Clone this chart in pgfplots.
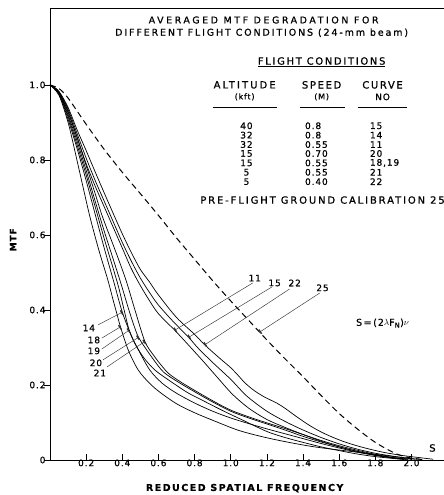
\documentclass[border=0pt]{standalone}
\usepackage{fontspec}
\setmainfont{DejaVu Sans}[LetterSpace=10,FakeBold=0.8]
\usepackage{pgfplots}
\pgfplotsset{compat=1.18}
\usetikzlibrary{arrows.meta}
\newcommand{\fs}[1]{\fontsize{#1}{#1}\selectfont}
\newcommand{\ls}[1]{\addfontfeatures{LetterSpace=#1}}
\begin{document}
\begin{tikzpicture}[x=1bp,y=1bp]
\useasboundingbox (-50bp,-35bp) rectangle (394bp,460bp);
\begin{axis}[
  scale only axis, width=394bp, height=452bp,
  xmin=0, xmax=2.18, ymin=0, ymax=1.205,
  axis lines*=left, axis line style={-, line width=0.6bp},
  clip=false,
  tick align=inside, major tick length=6bp,
  tick style={line width=0.6bp, black},
  ytick style={xshift=-6bp},
  xtick={0.2,0.4,0.6,0.8,1.0,1.2,1.4,1.6,1.8,2.0},
  xticklabels={0.2,0.4,0.6,0.8,1.0,1.2,1.4,1.6,1.8,2.0},
  ytick={0,0.2,0.4,0.6,0.8,1.0},
  yticklabels={0,0.2,0.4,0.6,0.8,1.0},
  tick label style={font=\fs{9}},
  x tick label style={yshift=4bp},
  y tick label style={xshift=-1bp},
  /pgf/number format/assume math mode=true,
]
% top frame line
\draw[line width=0.6bp] (axis cs:0,1.205) -- (axis cs:2.18,1.205);

% dashed ground calibration curve (25)
\addplot[black, line width=1bp, dash pattern=on 6bp off 4bp, smooth, tension=0.5] coordinates {
(0,1.0)(0.05,0.99)(0.1,0.965)(0.2,0.895)(0.3,0.828)(0.4,0.767)(0.5,0.71)(0.6,0.652)(0.7,0.592)(0.8,0.535)(0.9,0.478)(1.0,0.424)(1.1,0.372)(1.2,0.32)(1.3,0.27)(1.4,0.222)(1.5,0.172)(1.6,0.124)(1.7,0.083)(1.8,0.047)(1.9,0.02)(1.97,0.008)(2.05,0.002)};

% curve 11
\addplot[black, line width=0.7bp, smooth, tension=0.5] coordinates {
(0,1)(0.05,0.978)(0.1,0.93)(0.15,0.86)(0.2,0.79)(0.25,0.73)(0.3,0.675)(0.35,0.62)(0.4,0.565)(0.45,0.51)(0.5,0.465)(0.55,0.425)(0.6,0.39)(0.69,0.346)(0.75,0.315)(0.85,0.262)(0.93,0.218)(1.01,0.175)(1.1,0.138)(1.2,0.108)(1.3,0.087)(1.4,0.068)(1.5,0.05)(1.6,0.035)(1.7,0.023)(1.8,0.013)(1.9,0.006)(2.0,0.002)};
% curve 15
\addplot[black, line width=0.7bp, smooth, tension=0.5] coordinates {
(0,1)(0.05,0.98)(0.1,0.935)(0.15,0.87)(0.2,0.805)(0.25,0.745)(0.3,0.69)(0.35,0.635)(0.4,0.58)(0.45,0.53)(0.5,0.485)(0.55,0.447)(0.6,0.413)(0.68,0.37)(0.767,0.327)(0.82,0.298)(0.9,0.26)(1.0,0.215)(1.09,0.17)(1.2,0.13)(1.3,0.103)(1.4,0.08)(1.5,0.06)(1.6,0.043)(1.7,0.029)(1.8,0.018)(1.9,0.01)(2.0,0.004)(2.06,0.001)};
% curve 22
\addplot[black, line width=0.7bp, smooth, tension=0.5] coordinates {
(0,1)(0.05,0.982)(0.1,0.94)(0.15,0.88)(0.2,0.825)(0.25,0.768)(0.3,0.712)(0.35,0.657)(0.4,0.603)(0.45,0.553)(0.5,0.508)(0.55,0.475)(0.6,0.44)(0.7,0.38)(0.8,0.335)(0.856,0.307)(0.93,0.275)(1.0,0.246)(1.04,0.226)(1.08,0.205)(1.13,0.185)(1.19,0.167)(1.25,0.153)(1.3,0.138)(1.36,0.117)(1.44,0.091)(1.52,0.07)(1.62,0.05)(1.72,0.035)(1.84,0.021)(1.95,0.012)(2.05,0.006)(2.12,0.002)};
% curve 18
\addplot[black, line width=0.7bp, smooth, tension=0.5] coordinates {
(0,1)(0.05,0.972)(0.1,0.9)(0.13,0.84)(0.17,0.755)(0.22,0.65)(0.27,0.56)(0.32,0.48)(0.35,0.425)(0.37,0.39)(0.39,0.355)(0.433,0.293)(0.488,0.24)(0.55,0.205)(0.61,0.18)(0.7,0.15)(0.8,0.126)(0.9,0.106)(1.05,0.078)(1.23,0.056)(1.45,0.036)(1.68,0.022)(1.84,0.013)(1.95,0.006)(2.02,0.002)};
% curve 14
\addplot[black, line width=0.7bp, smooth, tension=0.5] coordinates {
(0,1)(0.05,0.975)(0.1,0.908)(0.15,0.83)(0.2,0.745)(0.25,0.655)(0.3,0.565)(0.35,0.48)(0.4,0.394)(0.45,0.332)(0.49,0.293)(0.552,0.24)(0.62,0.205)(0.7,0.178)(0.8,0.152)(0.9,0.13)(1.0,0.112)(1.1,0.097)(1.2,0.083)(1.3,0.07)(1.4,0.057)(1.5,0.044)(1.6,0.032)(1.7,0.021)(1.8,0.012)(1.9,0.005)(1.98,0.002)};
% curve 19
\addplot[black, line width=0.7bp, smooth, tension=0.5] coordinates {
(0,1)(0.05,0.977)(0.1,0.915)(0.15,0.84)(0.2,0.76)(0.25,0.675)(0.3,0.59)(0.35,0.51)(0.38,0.46)(0.41,0.4)(0.438,0.346)(0.47,0.31)(0.52,0.272)(0.58,0.24)(0.66,0.212)(0.76,0.18)(0.84,0.16)(0.95,0.133)(1.05,0.11)(1.2,0.076)(1.3,0.06)(1.4,0.047)(1.5,0.035)(1.6,0.025)(1.7,0.016)(1.8,0.009)(1.9,0.004)(1.96,0.001)};
% curve 20
\addplot[black, line width=0.7bp, smooth, tension=0.5] coordinates {
(0,1)(0.05,0.98)(0.1,0.92)(0.15,0.85)(0.2,0.772)(0.25,0.69)(0.3,0.61)(0.35,0.535)(0.396,0.465)(0.43,0.41)(0.46,0.365)(0.49,0.327)(0.55,0.283)(0.617,0.24)(0.663,0.222)(0.75,0.196)(0.88,0.16)(1.0,0.13)(1.1,0.112)(1.2,0.096)(1.3,0.08)(1.4,0.063)(1.5,0.048)(1.6,0.035)(1.7,0.023)(1.8,0.013)(1.9,0.006)(1.97,0.002)};
% curve 21
\addplot[black, line width=0.7bp, smooth, tension=0.5] coordinates {
(0,1)(0.05,0.982)(0.1,0.926)(0.15,0.86)(0.2,0.785)(0.25,0.71)(0.29,0.649)(0.36,0.56)(0.42,0.48)(0.47,0.40)(0.525,0.316)(0.575,0.278)(0.62,0.25)(0.663,0.228)(0.75,0.2)(0.9,0.158)(1.0,0.133)(1.1,0.115)(1.2,0.099)(1.3,0.084)(1.4,0.068)(1.5,0.052)(1.6,0.038)(1.7,0.026)(1.8,0.015)(1.88,0.008)(1.95,0.003)};

% leader lines
\tikzset{lead/.style={line width=0.45bp, black!80, -{Bar[width=5bp,line width=1.4bp]}}}
\draw[lead] (axis cs:0.265,0.360) -- (axis cs:0.40,0.394);
\draw[lead] (axis cs:0.287,0.325) -- (axis cs:0.39,0.355);
\draw[lead] (axis cs:0.287,0.296) -- (axis cs:0.438,0.346);
\draw[lead] (axis cs:0.293,0.267) -- (axis cs:0.49,0.327);
\draw[lead] (axis cs:0.315,0.248) -- (axis cs:0.525,0.316);
\draw[lead] (axis cs:1.122,0.472) -- (axis cs:0.69,0.346);
\draw[lead] (axis cs:1.227,0.461) -- (axis cs:0.767,0.327);
\draw[lead] (axis cs:1.326,0.456) -- (axis cs:0.856,0.307);
\draw[lead] (axis cs:1.492,0.445) -- (axis cs:1.16,0.341);

% curve labels
\node[font=\fs{9}] at (axis cs:0.215,0.352) {14};
\node[font=\fs{9}] at (axis cs:0.243,0.320) {18};
\node[font=\fs{9}] at (axis cs:0.243,0.291) {19};
\node[font=\fs{9}] at (axis cs:0.254,0.259) {20};
\node[font=\fs{9}] at (axis cs:0.276,0.232) {21};
\node[font=\fs{9}] at (axis cs:1.133,0.485) {11};
\node[font=\fs{9}] at (axis cs:1.243,0.472) {15};
\node[font=\fs{9}] at (axis cs:1.354,0.472) {22};
\node[font=\fs{9}] at (axis cs:1.508,0.459) {25};

% titles
\node[font=\fs{9.5}\ls{27}] at (axis cs:1.182,1.173) {AVERAGED MTF DEGRADATION FOR};
\node[font=\fs{9.5}\ls{20}] at (axis cs:1.171,1.139) {DIFFERENT FLIGHT CONDITIONS (24-mm beam)};
\node[font=\fs{10}\ls{17}] at (axis cs:1.503,1.061) {\underline{FLIGHT CONDITIONS}};
\node[font=\fs{10}\ls{21}] at (axis cs:1.077,1.000) {ALTITUDE};
\node[font=\fs{8}] at (axis cs:1.077,0.968) {(kft)};
\node[font=\fs{10}\ls{17}] at (axis cs:1.503,1.000) {SPEED};
\node[font=\fs{8}] at (axis cs:1.503,0.968) {(M)};
\node[font=\fs{10}\ls{17}] at (axis cs:1.840,1.000) {CURVE};
\node[font=\fs{9}] at (axis cs:1.840,0.968) {NO};
\draw[line width=0.5bp] (axis cs:0.900,0.941) -- (axis cs:1.254,0.941);
\draw[line width=0.5bp] (axis cs:1.381,0.941) -- (axis cs:1.630,0.941);
\draw[line width=0.5bp] (axis cs:1.702,0.941) -- (axis cs:1.978,0.941);
% table rows
\node[font=\fs{9}] at (axis cs:1.087,0.891) {40};
\node[font=\fs{9}] at (axis cs:1.087,0.866) {32};
\node[font=\fs{9}] at (axis cs:1.087,0.841) {32};
\node[font=\fs{9}] at (axis cs:1.087,0.817) {15};
\node[font=\fs{9}] at (axis cs:1.087,0.792) {15};
\node[font=\fs{9}] at (axis cs:1.087,0.767) {5};
\node[font=\fs{9}] at (axis cs:1.087,0.742) {5};
\node[font=\fs{9}, anchor=west] at (axis cs:1.392,0.891) {0.8};
\node[font=\fs{9}, anchor=west] at (axis cs:1.392,0.866) {0.8};
\node[font=\fs{9}, anchor=west] at (axis cs:1.392,0.841) {0.55};
\node[font=\fs{9}, anchor=west] at (axis cs:1.392,0.817) {0.70};
\node[font=\fs{9}, anchor=west] at (axis cs:1.392,0.792) {0.55};
\node[font=\fs{9}, anchor=west] at (axis cs:1.392,0.767) {0.55};
\node[font=\fs{9}, anchor=west] at (axis cs:1.392,0.742) {0.40};
\node[font=\fs{9}, anchor=west] at (axis cs:1.751,0.891) {15};
\node[font=\fs{9}, anchor=west] at (axis cs:1.751,0.866) {14};
\node[font=\fs{9}, anchor=west] at (axis cs:1.751,0.841) {11};
\node[font=\fs{9}, anchor=west] at (axis cs:1.751,0.817) {20};
\node[font=\fs{9}, anchor=west] at (axis cs:1.751,0.792) {18,19};
\node[font=\fs{9}, anchor=west] at (axis cs:1.751,0.767) {21};
\node[font=\fs{9}, anchor=west] at (axis cs:1.751,0.742) {22};
\node[font=\fs{10}\ls{19}] at (axis cs:1.508,0.693) {PRE-FLIGHT GROUND CALIBRATION 25};
\node[font=\fs{9.5}] at (axis cs:1.840,0.365) {S\,=\,(2$\lambda$F$_{\mathrm{N}}$)$\nu$};
\node[font=\fs{10}] at (axis cs:2.116,0.032) {S};

% axis labels
\node[font=\bfseries\fs{9.5}\ls{16}] at (axis cs:1.077,-0.075) {REDUCED SPATIAL FREQUENCY};
\node[font=\bfseries\fs{9}, rotate=90] at (axis cs:-0.204,0.587) {MTF};
\end{axis}
\end{tikzpicture}
\end{document}
